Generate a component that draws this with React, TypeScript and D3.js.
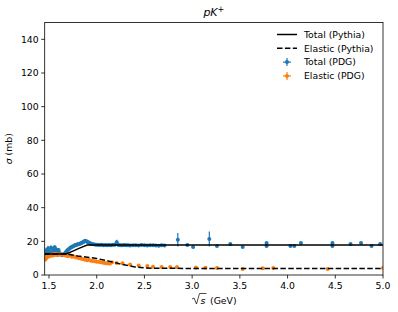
import React from "react";
import * as d3 from "d3";

// Pythia curves: [sqrt(s) GeV, sigma mb]
const totalPythia: [number, number][] = [
  [1.455, 12.5], [1.68, 12.5], [1.75, 14.2], [1.82, 16.0], [1.9, 17.8], [5.0, 17.8],
];
const elasticPythia: [number, number][] = [
  [1.455, 12.5], [1.68, 12.5], [1.8, 11.3], [1.9, 10.6], [2.0, 9.8], [2.1, 8.6],
  [2.2, 7.2], [2.3, 5.9], [2.4, 4.8], [2.5, 4.2], [2.6, 4.0], [3.0, 3.9], [4.0, 3.85], [5.0, 3.8],
];

// PDG data: [sqrt(s), sigma, error]
const totalPDG: [number, number, number][] = [
  [1.462, 12.8, 1.2], [1.47, 14.5, 1.5], [1.48, 13.2, 1.0], [1.49, 15.8, 1.6], [1.5, 13.5, 1.0],
  [1.51, 14.0, 1.2], [1.52, 16.2, 1.5], [1.53, 13.0, 1.0], [1.54, 15.5, 1.4], [1.55, 14.2, 1.0],
  [1.56, 16.5, 1.2], [1.57, 13.8, 1.0], [1.58, 15.0, 1.3], [1.59, 12.6, 0.8], [1.6, 14.8, 1.2],
  [1.61, 13.2, 0.8], [1.62, 12.4, 0.6], [1.63, 12.0, 0.6], [1.64, 11.8, 0.6], [1.65, 12.2, 0.6],
  [1.66, 12.5, 0.6], [1.67, 13.0, 0.6], [1.68, 13.8, 0.6], [1.69, 14.5, 0.6], [1.7, 15.0, 0.6],
  [1.71, 15.5, 0.6], [1.72, 16.0, 0.6], [1.73, 16.3, 0.6], [1.74, 16.8, 0.6], [1.75, 17.0, 0.6],
  [1.76, 17.3, 0.6], [1.77, 17.6, 0.6], [1.78, 17.8, 0.6], [1.79, 18.0, 0.6], [1.8, 18.2, 0.6],
  [1.81, 18.3, 0.6], [1.82, 18.5, 0.6], [1.83, 18.7, 0.6], [1.84, 19.0, 0.6], [1.85, 19.3, 0.6],
  [1.86, 19.6, 0.6], [1.87, 20.0, 0.7], [1.88, 20.3, 0.7], [1.89, 20.1, 0.7], [1.9, 19.8, 0.6],
  [1.91, 19.5, 0.6], [1.92, 19.2, 0.6], [1.93, 18.9, 0.6], [1.94, 18.6, 0.5], [1.95, 18.4, 0.5],
  [1.97, 18.2, 0.5], [1.99, 18.0, 0.5], [2.01, 17.9, 0.5], [2.03, 17.8, 0.5], [2.05, 17.9, 0.5],
  [2.07, 17.7, 0.5], [2.09, 17.8, 0.5], [2.11, 17.6, 0.5], [2.13, 17.8, 0.5], [2.15, 17.7, 0.5],
  [2.17, 17.9, 0.5], [2.19, 18.0, 0.5], [2.21, 19.5, 1.5], [2.23, 17.8, 0.5], [2.25, 17.7, 0.5],
  [2.27, 17.6, 0.5], [2.29, 17.8, 0.5], [2.31, 17.7, 0.5], [2.33, 17.6, 0.5], [2.35, 17.5, 0.5],
  [2.38, 17.7, 0.5], [2.41, 17.6, 0.5], [2.44, 17.5, 0.5], [2.47, 17.8, 0.5], [2.5, 17.6, 0.5],
  [2.53, 17.5, 0.5], [2.56, 17.7, 0.5], [2.59, 17.6, 0.5], [2.62, 17.5, 0.5], [2.65, 17.4, 0.5],
  [2.68, 17.6, 0.5], [2.71, 17.5, 0.5],
  [2.85, 21.0, 4.0], [2.95, 17.8, 0.5], [3.01, 16.6, 0.5], [3.18, 21.4, 4.4], [3.26, 17.2, 0.5],
  [3.4, 18.4, 0.5], [3.53, 16.6, 0.5], [3.78, 19.0, 0.5], [3.78, 17.2, 0.5], [4.03, 17.2, 0.5],
  [4.07, 17.2, 0.5], [4.14, 19.0, 0.5], [4.47, 19.0, 0.5], [4.47, 17.2, 0.5], [4.66, 18.4, 0.5],
  [4.77, 19.0, 0.5], [4.88, 17.2, 0.5], [4.97, 18.4, 0.5],
];
const elasticPDG: [number, number, number][] = [
  [1.462, 9.2, 1.0], [1.47, 10.0, 1.0], [1.48, 10.8, 1.0], [1.49, 11.3, 0.8], [1.5, 11.0, 0.8],
  [1.51, 11.8, 0.8], [1.52, 12.0, 0.8], [1.53, 11.5, 0.8], [1.54, 12.2, 0.8], [1.55, 11.8, 0.8],
  [1.56, 12.5, 0.8], [1.57, 12.0, 0.8], [1.58, 12.3, 0.8], [1.59, 11.7, 0.8], [1.6, 12.0, 0.8],
  [1.62, 12.4, 0.6], [1.64, 12.0, 0.6], [1.66, 11.8, 0.6], [1.68, 11.5, 0.6], [1.7, 11.2, 0.6],
  [1.72, 11.6, 0.6], [1.74, 10.8, 0.6], [1.76, 11.0, 0.6], [1.78, 10.5, 0.6], [1.8, 10.2, 0.6],
  [1.82, 10.0, 0.6], [1.84, 9.6, 0.6], [1.86, 9.4, 0.6], [1.88, 9.0, 0.6], [1.9, 8.8, 0.6],
  [1.92, 8.9, 0.6], [1.94, 8.5, 0.6], [1.96, 8.3, 0.6], [1.98, 8.2, 0.6], [2.0, 7.9, 0.5],
  [2.02, 7.8, 0.5], [2.04, 7.6, 0.5], [2.06, 7.5, 0.5], [2.08, 7.2, 0.5], [2.1, 7.0, 0.5],
  [2.12, 6.8, 0.5], [2.14, 6.9, 0.5], [2.16, 7.6, 0.5], [2.21, 7.1, 0.5], [2.27, 7.0, 0.5],
  [2.35, 6.2, 0.5], [2.44, 5.6, 0.5], [2.53, 5.3, 0.4], [2.59, 4.9, 0.4], [2.68, 4.7, 0.4],
  [2.77, 4.7, 0.4], [2.84, 4.7, 0.4], [3.04, 4.5, 0.4], [3.14, 4.3, 0.4], [3.26, 4.2, 0.4],
  [3.53, 3.6, 0.4], [3.74, 4.0, 0.4], [3.85, 4.2, 0.4], [4.42, 3.6, 0.4], [5.0, 4.2, 0.4],
];

const xTicks = [1.5, 2.0, 2.5, 3.0, 3.5, 4.0, 4.5, 5.0];
const yTicks = [0, 20, 40, 60, 80, 100, 120, 140];

const W = 398;
const H = 312;
const M = { left: 44.7, right: 383, top: 22.5, bottom: 275 };
const BLUE = "#1f77b4";
const ORANGE = "#ff7f0e";
const FONT = "DejaVu Sans, sans-serif";
const FS = 9.3;

export default function App() {
  const x = d3.scaleLinear().domain([1.455, 5.0]).range([M.left, M.right]);
  const y = d3.scaleLinear().domain([0, 150]).range([M.bottom, M.top]);
  const line = d3
    .line<[number, number]>()
    .x((d) => x(d[0]))
    .y((d) => y(d[1]));

  const points = (data: [number, number, number][], color: string, key: string) => (
    <g>
      {data.map((d, i) => (
        <g key={key + i}>
          <line x1={x(d[0])} x2={x(d[0])} y1={y(d[1] - d[2])} y2={y(d[1] + d[2])} stroke={color} strokeWidth={1.2} />
          <circle cx={x(d[0])} cy={y(d[1])} r={2} fill={color} />
        </g>
      ))}
    </g>
  );

  const legend = [
    { label: "Total (Pythia)", kind: "solid" },
    { label: "Elastic (Pythia)", kind: "dash" },
    { label: "Total (PDG)", kind: BLUE },
    { label: "Elastic (PDG)", kind: ORANGE },
  ];

  return (
    <svg width={W} height={H} style={{ position: "absolute", left: 0, top: 0, background: "#fff" }} fontFamily={FONT}>
      <defs>
        <clipPath id="plot">
          <rect x={M.left} y={M.top} width={M.right - M.left} height={M.bottom - M.top} />
        </clipPath>
      </defs>
      <g clipPath="url(#plot)">
        {points(totalPDG, BLUE, "t")}
        {points(elasticPDG, ORANGE, "e")}
        <path d={line(totalPythia) || ""} fill="none" stroke="#000" strokeWidth={1.5} />
        <path d={line(elasticPythia) || ""} fill="none" stroke="#000" strokeWidth={1.5} strokeDasharray="5.5,2.4" />
      </g>
      <rect x={M.left} y={M.top} width={M.right - M.left} height={M.bottom - M.top} fill="none" stroke="#000" strokeWidth={0.8} />

      {xTicks.map((t) => (
        <g key={"x" + t}>
          <line x1={x(t)} x2={x(t)} y1={M.bottom} y2={M.bottom + 3.5} stroke="#000" strokeWidth={0.8} />
          <text x={x(t)} y={M.bottom + 13.5} fontSize={FS} textAnchor="middle">{t.toFixed(1)}</text>
        </g>
      ))}
      {yTicks.map((t) => (
        <g key={"y" + t}>
          <line x1={M.left - 3.5} x2={M.left} y1={y(t)} y2={y(t)} stroke="#000" strokeWidth={0.8} />
          <text x={M.left - 6} y={y(t)} dy="0.35em" fontSize={FS} textAnchor="end">{t}</text>
        </g>
      ))}

      {/* axis labels */}
      <g fontSize={FS}>
        <path d="M192,299 L194,298 L196.5,304 L199.5,293.5 L206.5,293.5" fill="none" stroke="#000" strokeWidth={0.7} />
        <text x={200.5} y={303.5} fontStyle="italic">s</text>
        <text x={210} y={303.5}>(GeV)</text>
      </g>
      <text transform={`translate(12,${(M.top + M.bottom) / 2}) rotate(-90)`} fontSize={FS} textAnchor="middle">
        <tspan fontStyle="italic">σ</tspan> (mb)
      </text>
      <text x={(M.left + M.right) / 2} y={16} fontSize={11} textAnchor="middle" fontStyle="italic">
        pK<tspan dy={-4.5} fontSize={8} fontStyle="normal">+</tspan>
      </text>

      {/* legend */}
      <g fontSize={FS}>
        {legend.map((l, i) => {
          const cy = 34.5 + i * 13.8;
          return (
            <g key={l.label}>
              {l.kind === "solid" && <line x1={277} x2={297} y1={cy} y2={cy} stroke="#000" strokeWidth={1.5} />}
              {l.kind === "dash" && (
                <line x1={277} x2={297} y1={cy} y2={cy} stroke="#000" strokeWidth={1.5} strokeDasharray="5.5,2.4" />
              )}
              {l.kind !== "solid" && l.kind !== "dash" && (
                <g>
                  <line x1={283} x2={291} y1={cy} y2={cy} stroke={l.kind} strokeWidth={1.2} />
                  <line x1={287} x2={287} y1={cy - 4} y2={cy + 4} stroke={l.kind} strokeWidth={1.2} />
                  <circle cx={287} cy={cy} r={2} fill={l.kind} />
                </g>
              )}
              <text x={304} y={cy} dy="0.35em">{l.label}</text>
            </g>
          );
        })}
      </g>
    </svg>
  );
}
